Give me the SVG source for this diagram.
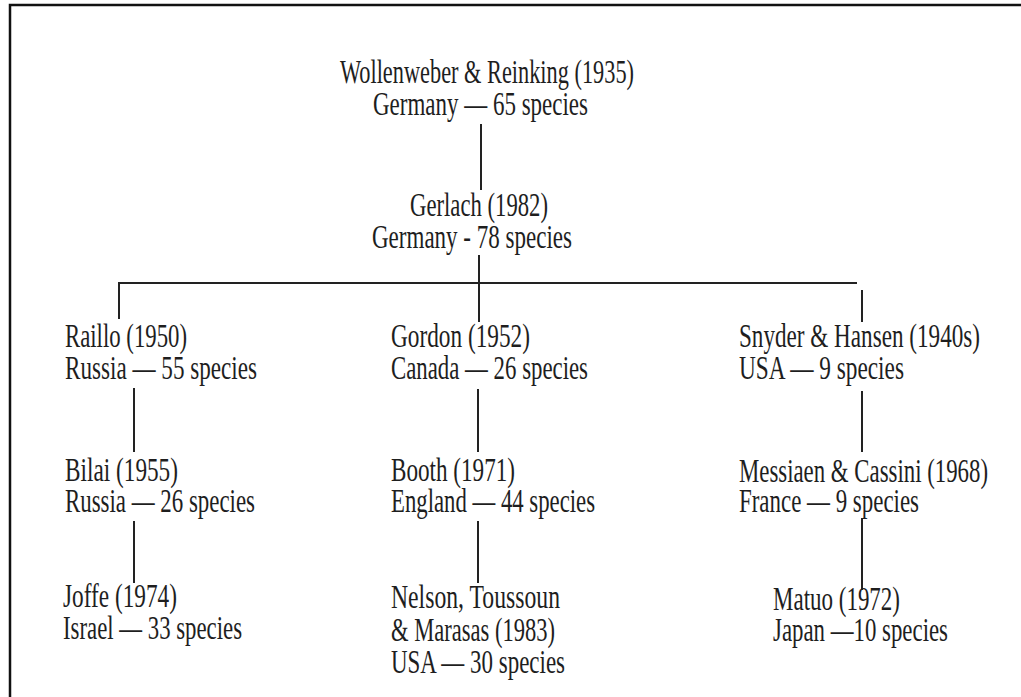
<svg xmlns="http://www.w3.org/2000/svg" width="1021" height="697" viewBox="0 0 1021 697">
<style>
text{font-family:"Liberation Serif","Times New Roman",serif;font-size:33px;fill:#1e1e1e}
.c line{stroke:#222;stroke-width:2}
</style>
<rect x="0" y="0" width="1021" height="697" fill="#fff"/>
<rect x="10" y="5" width="1030" height="720" fill="none" stroke="#111" stroke-width="2.5"/>
<g class="c" id="connectors">
<line x1="481" y1="124" x2="481" y2="190"/>
<line x1="479" y1="255" x2="479" y2="322"/>
<line x1="118" y1="283" x2="857" y2="283"/>
<line x1="119" y1="283" x2="119" y2="319"/>
<line x1="862" y1="290" x2="862" y2="322"/>
<line x1="134" y1="388" x2="134" y2="452"/>
<line x1="134" y1="521" x2="134" y2="583"/>
<line x1="478" y1="389" x2="478" y2="452"/>
<line x1="478" y1="521" x2="478" y2="583"/>
<line x1="862" y1="391" x2="862" y2="452"/>
<line x1="862" y1="518" x2="862" y2="590"/>
</g>
<g id="n-wollenweber">
<text x="340" y="83" textLength="294" lengthAdjust="spacingAndGlyphs">Wollenweber &amp; Reinking (1935)</text>
<text x="373" y="115" textLength="215" lengthAdjust="spacingAndGlyphs">Germany — 65 species</text>
</g>
<g id="n-gerlach">
<text x="410" y="216" textLength="138" lengthAdjust="spacingAndGlyphs">Gerlach (1982)</text>
<text x="372" y="248" textLength="200" lengthAdjust="spacingAndGlyphs">Germany - 78 species</text>
</g>
<g id="n-raillo">
<text x="65" y="347" textLength="122" lengthAdjust="spacingAndGlyphs">Raillo (1950)</text>
<text x="65" y="379" textLength="192" lengthAdjust="spacingAndGlyphs">Russia — 55 species</text>
</g>
<g id="n-bilai">
<text x="65" y="481" textLength="113" lengthAdjust="spacingAndGlyphs">Bilai (1955)</text>
<text x="65" y="512" textLength="190" lengthAdjust="spacingAndGlyphs">Russia — 26 species</text>
</g>
<g id="n-joffe">
<text x="63" y="607" textLength="114" lengthAdjust="spacingAndGlyphs">Joffe (1974)</text>
<text x="63" y="639" textLength="179" lengthAdjust="spacingAndGlyphs">Israel — 33 species</text>
</g>
<g id="n-gordon">
<text x="391" y="347" textLength="139" lengthAdjust="spacingAndGlyphs">Gordon (1952)</text>
<text x="391" y="379" textLength="197" lengthAdjust="spacingAndGlyphs">Canada — 26 species</text>
</g>
<g id="n-booth">
<text x="391" y="481" textLength="124" lengthAdjust="spacingAndGlyphs">Booth (1971)</text>
<text x="391" y="512" textLength="204" lengthAdjust="spacingAndGlyphs">England — 44 species</text>
</g>
<g id="n-nelson">
<text x="391" y="608" textLength="169" lengthAdjust="spacingAndGlyphs">Nelson, Toussoun</text>
<text x="391" y="641" textLength="164" lengthAdjust="spacingAndGlyphs">&amp; Marasas (1983)</text>
<text x="391" y="673" textLength="174" lengthAdjust="spacingAndGlyphs">USA — 30 species</text>
</g>
<g id="n-snyder">
<text x="739" y="347" textLength="241" lengthAdjust="spacingAndGlyphs">Snyder &amp; Hansen (1940s)</text>
<text x="739" y="379" textLength="165" lengthAdjust="spacingAndGlyphs">USA — 9 species</text>
</g>
<g id="n-messiaen">
<text x="739" y="482" textLength="249" lengthAdjust="spacingAndGlyphs">Messiaen &amp; Cassini (1968)</text>
<text x="739" y="512" textLength="180" lengthAdjust="spacingAndGlyphs">France — 9 species</text>
</g>
<g id="n-matuo">
<text x="773" y="610" textLength="127" lengthAdjust="spacingAndGlyphs">Matuo (1972)</text>
<text x="773" y="641" textLength="175" lengthAdjust="spacingAndGlyphs">Japan —10 species</text>
</g>
</svg>
